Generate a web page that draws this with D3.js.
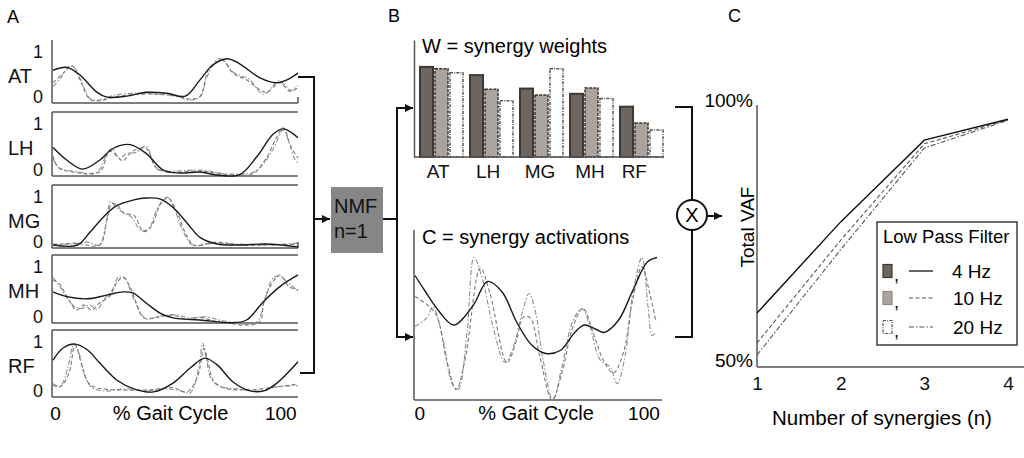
<!DOCTYPE html>
<html>
<head>
<meta charset="utf-8">
<script src="https://cdn.jsdelivr.net/npm/d3@7"></script>
<style>
  body { margin: 0; background: #fff; }
  svg { display: block; font-family: "Liberation Sans", Arial, sans-serif; }
</style>
</head>
<body>
<div id="fig"></div>
<script>
// ---- datos ----
var muscles = ["AT", "LH", "MG", "MH", "RF"];
var filters = ["4 Hz", "10 Hz", "20 Hz"];

// A: envolventes EMG, [% ciclo de marcha, amplitud normalizada]
var at4 = [[0,.62],[5.7,.68],[11,.52],[18,.16],[22,.06],[30,.08],[38,.16],[46.5,.14],[54,.08],[60,.42],[65,.72],[71,.86],[76,.76],[84.5,.46],[91,.36],[95.5,.42],[100,.56]];
var at10 = [[0,.36],[4,.55],[7.7,.72],[11,.42],[15,.02],[19,-.02],[24.5,.06],[35.5,.12],[49,.1],[56,.02],[60,.08],[64,.68],[69.5,.82],[73.5,.56],[79,.42],[87,.16],[92.5,.36],[96.7,.18],[100,.26]];
var at20 = [[0,.28],[3,.45],[6.5,.7],[8.5,.68],[11.5,.4],[15,.04],[19,0],[25,.1],[34,.14],[42,.12],[50,.08],[56,0],[60,.06],[63,.5],[67.5,.86],[70,.8],[73,.6],[77,.5],[80,.44],[86,.12],[92,.4],[95,.3],[97,.2],[100,.3]];

var lh4 = [[0,.52],[5.7,.26],[12,.08],[19,.26],[24.5,.5],[31.4,.58],[38,.4],[45,.06],[52,0],[60,.02],[67,-.04],[76,-.04],[83,.32],[90,.8],[94,.9],[97.5,.82],[100,.72]];
var lh10 = [[0,.35],[2,.12],[8,.02],[19,.02],[23,.45],[26,.35],[28.5,.25],[32.6,.45],[38,.5],[42,.12],[46,.02],[60,.04],[73,-.04],[82,0],[87,.3],[91,.7],[94,.92],[97,.55],[100,.3]];
var lh20 = [[0,.3],[2.5,.1],[8,.04],[18,.02],[22,.4],[24,.5],[27,.3],[30,.4],[34,.42],[38,.55],[42,.1],[46,.04],[60,.06],[72,-.02],[82,.02],[86,.2],[90,.5],[94,.88],[96.5,.6],[98.5,.3],[100,.2]];

var mg4 = [[0,0],[10,0],[15,.26],[20.5,.58],[26,.82],[33,.94],[38,.98],[43.6,.96],[49,.78],[54.7,.46],[60,.16],[67,.02],[76,0],[87,.02],[100,-.04]];
var mg10 = [[0,0],[9,.04],[19,0],[22,.52],[24,.86],[26,.84],[29,.66],[33,.62],[37,.28],[40,.38],[44,.86],[47,.98],[50.6,.68],[54.7,.18],[57.5,0],[67,.06],[76,0],[100,.02]];
var mg20 = [[0,.02],[8,.02],[14,.06],[19,0],[21.5,.4],[23.5,.9],[25.5,.8],[28,.7],[32,.58],[36,.3],[39,.34],[43,.8],[46.5,1],[49,.82],[53,.3],[57,0],[66,.04],[75,.02],[88,0],[100,.04]];

var mh4 = [[0,.53],[5.7,.44],[14,.4],[22,.47],[28.6,.53],[32.6,.51],[38,.32],[43.7,.13],[49,.04],[60,0],[73.5,-.05],[79,0],[86,.35],[92.6,.63],[100,.85]];
var mh10 = [[0,.75],[2.5,.69],[5.7,.44],[9.7,.19],[12.5,.28],[16,.19],[19,.32],[23,.44],[26,.7],[28.6,.81],[31.4,.63],[34,.32],[37,.04],[43.7,.06],[49,.09],[54.7,.01],[60,.05],[67,-.03],[84,-.05],[86,.32],[88.6,.63],[92.6,.85],[96.3,.63],[100,.57]];
var mh20 = [[0,.8],[3,.62],[6,.4],[9,.25],[12,.22],[15,.28],[18,.2],[21,.4],[24,.55],[27,.82],[29.5,.78],[32,.5],[35,.2],[38,.02],[44,.08],[50,.1],[56,.04],[62,.06],[70,-.02],[83,-.04],[86.5,.4],[90,.8],[93,.82],[96,.7],[100,.55]];

var rf4 = [[0,.65],[4,.88],[9,.96],[14,.85],[19,.6],[26,.27],[33,.1],[41,.04],[49,.21],[56,.5],[62,.69],[67,.56],[73.5,.23],[80.4,.06],[86,.06],[91.4,.21],[100,.62]];
var rf10 = [[0,.17],[3,.14],[6.5,.4],[9,.94],[12,.52],[14.5,.21],[18,.12],[26,.08],[40,.08],[49,.12],[54.7,.04],[59,.33],[61.6,.88],[63.3,.62],[65.3,.27],[69.6,.12],[80,.08],[93,.15],[100,.19]];
var rf20 = [[0,.2],[3,.15],[6,.5],[8.5,.96],[10.5,.8],[13,.35],[16,.12],[22,.06],[30,.1],[38,.06],[46,.1],[52,.06],[56,.02],[59.5,.5],[61,.98],[62.5,.7],[64.5,.3],[68,.15],[75,.1],[84,.06],[92,.14],[100,.16]];

// B: pesos de la sinergia (por musculo)
var weights4 = [0.77, 0.70, 0.585, 0.54, 0.43];
var weights10 = [0.755, 0.58, 0.53, 0.59, 0.29];
var weights20 = [0.72, 0.48, 0.755, 0.50, 0.23];

// B: activaciones de la sinergia
var act4 = [[0,.83],[4,.73],[10,.59],[16,.5],[24,.63],[30,.79],[36,.72],[42,.52],[48,.37],[54,.31],[60,.33],[66,.45],[70,.5],[75,.47],[78,.45],[84,.53],[90,.73],[96,.92],[100,.95]];
var act10 = [[0,.69],[8.3,.58],[13,.27],[17,.07],[20.7,.27],[27,.88],[31,.71],[38,.25],[42,.4],[44.6,.55],[47.5,.55],[51.6,.29],[56.6,0],[60.7,.18],[65.3,.49],[69.4,.61],[73.6,.45],[77.7,.27],[82,.18],[86,.31],[90,.67],[93.8,.89],[97,.71],[99.6,.52]];
var act20 = [[0,.49],[5,.55],[7.4,.62],[11.6,.4],[15.3,.11],[17.8,.07],[21.5,.45],[24.4,.95],[28,.8],[32.2,.49],[37.2,.25],[40.5,.35],[44.6,.6],[47.1,.71],[49.6,.6],[52.9,.27],[57,0],[60.7,.22],[65.3,.53],[69,.61],[72.3,.49],[76.4,.27],[80.6,.22],[83.5,.11],[86.8,.29],[90,.71],[93.8,.95],[96.3,.62],[98,.43],[99.6,.45]];

// C: VAF total frente a numero de sinergias
var nSynergies = [1, 2, 3, 4];
var vaf4 = [60.1, 77.5, 93.1, 97.1];
var vaf10 = [54.4, 74.0, 92.4, 97.0];
var vaf20 = [52.1, 72.2, 91.6, 96.9];

// ---- estilos ----
var emg = [[at4, at10, at20], [lh4, lh10, lh20], [mg4, mg10, mg20], [mh4, mh10, mh20], [rf4, rf10, rf20]];
var lineColor = ["#1a1a1a", "#7a7a7a", "#8e8e8e"];
var lineWidth = [1.4, 1.1, 1.1];
var lineDash = [null, "4,2.5", "5,2,1.5,2"];
var barFill = ["#6d6560", "#aba39e", "#ffffff"];
var barStroke = ["#3e3834", "#3a3633", "#555"];
var barDash = [null, "3,1.2", "3,1.2,1,1.2"];
var font = "\"Liberation Sans\", Arial, sans-serif";

var width = 1024, height = 458;

var svg = d3.select("#fig").append("svg")
  .attr("width", width)
  .attr("height", height);

svg.append("rect").attr("width", width).attr("height", height).attr("fill", "#fff");

// marcador de flecha
svg.append("defs").append("marker")
  .attr("id", "arrow")
  .attr("viewBox", "0 0 10 10")
  .attr("refX", 10).attr("refY", 5)
  .attr("markerWidth", 9).attr("markerHeight", 8)
  .attr("markerUnits", "userSpaceOnUse")
  .attr("orient", "auto")
  .append("path").attr("d", "M0,0L10,5L0,10Z").attr("fill", "#111");

var smooth = d3.line().curve(d3.curveCatmullRom.alpha(0.5));

// etiquetas de panel
svg.append("text").attr("x", 7).attr("y", 23).attr("font-size", 18).text("A");
svg.append("text").attr("x", 388).attr("y", 22).attr("font-size", 18).text("B");
svg.append("text").attr("x", 728).attr("y", 22).attr("font-size", 18).text("C");

// ---------------- Panel A ----------------
var aTop = [40, 112, 185, 255, 330];
var aBase = [103, 176, 248, 323, 397];
var xA = d3.scaleLinear().domain([0, 100]).range([53, 298]);

muscles.forEach(function(m, i) {
  var g = svg.append("g");
  var yA = d3.scaleLinear().domain([0, 1]).range([aBase[i] - 3, aTop[i] + 12]);

  // marco
  g.append("line").attr("x1", 52).attr("x2", 52).attr("y1", aTop[i]).attr("y2", aBase[i]);
  g.append("line").attr("x1", 52).attr("x2", 298).attr("y1", aBase[i]).attr("y2", aBase[i]);
  if (i > 0) g.append("line").attr("x1", 52).attr("x2", 298).attr("y1", aTop[i]).attr("y2", aTop[i]);
  if (i === 0 || i === 2) g.append("line").attr("x1", 298).attr("x2", 298).attr("y1", aBase[i] - 6).attr("y2", aBase[i]);
  g.selectAll("line").attr("stroke", "#555").attr("stroke-width", 1.5);

  // ticks 0 / 1
  var ax = g.append("g").attr("transform", "translate(52,0)")
    .call(d3.axisLeft(yA).tickValues([0, 1]).tickFormat(d3.format("d")).tickSize(0).tickPadding(9));
  ax.select(".domain").remove();
  ax.selectAll("text").attr("font-size", 18).attr("font-family", font).attr("fill", "#111")
    .attr("dy", function(d) { return d === 0 ? "0.12em" : "0.32em"; });

  g.append("text").attr("x", 8).attr("y", aTop[i] + 43).attr("font-size", 20).attr("fill", "#111").text(m);

  // curvas (20 Hz, 10 Hz, 4 Hz)
  [2, 1, 0].forEach(function(k) {
    g.append("path")
      .attr("d", smooth(emg[i][k].map(function(p) { return [xA(p[0]), yA(p[1])]; })))
      .attr("fill", "none")
      .attr("stroke", lineColor[k])
      .attr("stroke-width", lineWidth[k])
      .attr("stroke-dasharray", lineDash[k]);
  });
});

svg.append("text").attr("x", xA(1)).attr("y", 420).attr("text-anchor", "middle").attr("font-size", 19).text("0");
svg.append("text").attr("x", xA(48)).attr("y", 420).attr("text-anchor", "middle").attr("font-size", 20).text("% Gait Cycle");
svg.append("text").attr("x", xA(93)).attr("y", 420).attr("text-anchor", "middle").attr("font-size", 19).text("100");

// ---------------- diagrama ----------------
var diag = svg.append("g").attr("fill", "none").attr("stroke", "#111").attr("stroke-width", 2);
diag.append("path").attr("d", "M298,77H314V373H300");
diag.append("path").attr("d", "M314,219H330").attr("marker-end", "url(#arrow)");
svg.append("rect").attr("x", 331).attr("y", 187).attr("width", 52).attr("height", 66).attr("fill", "#868686");
svg.append("text").attr("x", 334).attr("y", 213).attr("font-size", 20).attr("fill", "#111").text("NMF");
svg.append("text").attr("x", 334).attr("y", 238).attr("font-size", 20).attr("fill", "#111").text("n=1");
diag.append("path").attr("d", "M383,219H397V108H413").attr("marker-end", "url(#arrow)");
diag.append("path").attr("d", "M397,219V337H413").attr("marker-end", "url(#arrow)");
diag.append("path").attr("d", "M675,107H692V200");
diag.append("path").attr("d", "M692,230V337H675");
diag.append("circle").attr("cx", 692).attr("cy", 215).attr("r", 15);
diag.append("path").attr("d", "M707,216H722").attr("marker-end", "url(#arrow)");
svg.append("text").attr("x", 692).attr("y", 222).attr("text-anchor", "middle").attr("font-size", 20).text("X");

// ---------------- Panel B: pesos ----------------
var yB = d3.scaleLinear().domain([0, 1]).range([157, 40]);
var gx = d3.scaleBand().domain(muscles).range([415, 665]);
var sub = d3.scaleBand().domain(filters).range([5, 48]).paddingInner(0.13);
var weights = [weights4, weights10, weights20];

var bars = svg.append("g");
muscles.forEach(function(m, i) {
  filters.forEach(function(f, k) {
    bars.append("rect")
      .attr("x", gx(m) + sub(f))
      .attr("y", yB(weights[k][i]))
      .attr("width", sub.bandwidth())
      .attr("height", yB(0) - yB(weights[k][i]))
      .attr("fill", barFill[k])
      .attr("stroke", barStroke[k])
      .attr("stroke-width", k === 0 ? 2 : 1.5)
      .attr("stroke-dasharray", barDash[k]);
  });
});

svg.append("g").attr("transform", "translate(414,0)")
  .call(d3.axisLeft(yB).tickValues([]).tickSizeOuter(0))
  .select(".domain").attr("stroke", "#555").attr("stroke-width", 1.5);
var bAx = svg.append("g").attr("transform", "translate(0,157)")
  .call(d3.axisBottom(gx).tickSize(0).tickPadding(7.5));
bAx.select(".domain").attr("d", "M414,0H664").attr("stroke", "#555").attr("stroke-width", 1.5);
bAx.selectAll("text").attr("font-size", 19).attr("font-family", font).attr("fill", "#111")
  .attr("dx", function(d) { return d === "RF" ? "-0.3em" : (d === "AT" || d === "LH" ? "-0.1em" : 0); });

svg.append("text").attr("x", 422).attr("y", 53).attr("font-size", 20).text("W = synergy weights");

// ---------------- Panel B: activaciones ----------------
var xC = d3.scaleLinear().domain([0, 100]).range([415, 657]);
var yC = d3.scaleLinear().domain([0, 1]).range([400, 250]);
var acts = [act4, act10, act20];

var actG = svg.append("g");
actG.append("line").attr("x1", 414).attr("x2", 414).attr("y1", 230).attr("y2", 400);
actG.append("line").attr("x1", 414).attr("x2", 662).attr("y1", 400).attr("y2", 400);
actG.selectAll("line").attr("stroke", "#555").attr("stroke-width", 1.5);
[2, 1, 0].forEach(function(k) {
  actG.append("path")
    .attr("d", smooth(acts[k].map(function(p) { return [xC(p[0]), yC(p[1])]; })))
    .attr("fill", "none")
    .attr("stroke", lineColor[k])
    .attr("stroke-width", lineWidth[k])
    .attr("stroke-dasharray", lineDash[k]);
});
svg.append("text").attr("x", 422).attr("y", 244).attr("font-size", 20).text("C = synergy activations");
svg.append("text").attr("x", xC(2)).attr("y", 420).attr("text-anchor", "middle").attr("font-size", 19).text("0");
svg.append("text").attr("x", xC(50)).attr("y", 420).attr("text-anchor", "middle").attr("font-size", 20).text("% Gait Cycle");
svg.append("text").attr("x", xC(94.6)).attr("y", 420).attr("text-anchor", "middle").attr("font-size", 19).text("100");

// ---------------- Panel C: VAF ----------------
var xV = d3.scaleLinear().domain([1, 4]).range([757, 1008]);
var yV = d3.scaleLinear().domain([50, 100]).range([366, 104]);
var vafs = [vaf4, vaf10, vaf20];

svg.append("line").attr("x1", 757).attr("x2", 757).attr("y1", 105).attr("y2", 367).attr("stroke", "#555").attr("stroke-width", 1.5);
svg.append("line").attr("x1", 757).attr("x2", 1024).attr("y1", 367).attr("y2", 367).attr("stroke", "#555").attr("stroke-width", 1.5);

var vAx = svg.append("g").attr("transform", "translate(0,367)")
  .call(d3.axisBottom(xV).tickValues(nSynergies).tickFormat(d3.format("d")).tickSize(0).tickPadding(10));
vAx.select(".domain").remove();
vAx.selectAll("text").attr("font-size", 19).attr("font-family", font).attr("fill", "#111");

svg.append("text").attr("x", 753).attr("y", 107).attr("text-anchor", "end").attr("font-size", 19).text("100%");
svg.append("text").attr("x", 753).attr("y", 367).attr("text-anchor", "end").attr("font-size", 19).text("50%");
svg.append("text").attr("transform", "translate(754,227) rotate(-90)").attr("text-anchor", "middle").attr("font-size", 19).text("Total VAF");
svg.append("text").attr("x", 882).attr("y", 425).attr("text-anchor", "middle").attr("font-size", 20.5).text("Number of synergies (n)");

var vLine = d3.line().x(function(d, j) { return xV(nSynergies[j]); }).y(function(d) { return yV(d); });
[2, 1, 0].forEach(function(k) {
  svg.append("path")
    .attr("d", vLine(vafs[k]))
    .attr("fill", "none")
    .attr("stroke", k === 0 ? "#111" : "#555")
    .attr("stroke-width", k === 0 ? 1.4 : 1.1)
    .attr("stroke-dasharray", lineDash[k]);
});

// leyenda
var leg = svg.append("g");
leg.append("rect").attr("x", 877).attr("y", 222).attr("width", 140).attr("height", 123)
  .attr("fill", "#fff").attr("stroke", "#333").attr("stroke-width", 1.4);
leg.append("text").attr("x", 883).attr("y", 243).attr("font-size", 18.5).text("Low Pass Filter");
var rowY = [271, 298, 327];
filters.forEach(function(f, k) {
  leg.append("rect").attr("x", 883).attr("y", rowY[k] - 6.5).attr("width", 9).attr("height", 13)
    .attr("fill", barFill[k]).attr("stroke", k === 1 ? "#8f8883" : barStroke[k]).attr("stroke-width", 1.2)
    .attr("stroke-dasharray", k === 2 ? barDash[k] : null);
  leg.append("text").attr("x", 894).attr("y", rowY[k] + 10).attr("font-size", 18).text(",");
  leg.append("line").attr("x1", 909).attr("x2", 933).attr("y1", rowY[k]).attr("y2", rowY[k])
    .attr("stroke", k === 0 ? "#111" : "#555").attr("stroke-width", k === 0 ? 1.3 : 1.1)
    .attr("stroke-dasharray", lineDash[k]);
  leg.append("text").attr("x", k === 0 ? 952 : 953).attr("y", rowY[k] + 7).attr("font-size", 19).text(f);
});
</script>
</body>
</html>
